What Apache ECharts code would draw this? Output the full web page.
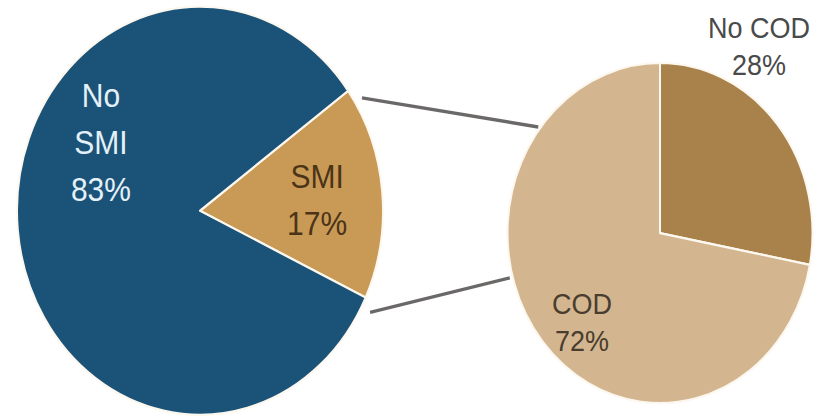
<!DOCTYPE html>
<html>
<head>
<meta charset="utf-8">
<script src="https://cdn.jsdelivr.net/npm/echarts@6/dist/echarts.min.js"></script>
<style>
  html, body { margin: 0; padding: 0; background: #ffffff; overflow: hidden; width: 821px; height: 420px; }
  #wrap { width: 821px; height: 420px; overflow: hidden; position: relative; }
  /* the whole drawing is stretched vertically, as in the printed figure */
  #chart { position: absolute; left: 0; top: 0; width: 821px; height: 377px; transform: scaleY(1.115); transform-origin: 0 0; }
</style>
</head>
<body>
<div id="wrap"><div id="chart"></div></div>
<script>
// Share of participants with / without SMI, and the COD split within SMI
const mainNames = ['SMI', 'No SMI'];
const mainValues = [17, 83];
const subNames = ['No COD', 'COD'];
const subValues = [28, 72];

// layout (unstretched pixels)
const mainCenter = [200, 189];
const mainRadius = 183;
const mainStart = 36;
const subCenter = [660, 209];
const subRadius = 152.5;
const subStart = 90;

const mainColors = ['#c99a56', '#1b5378'];
const subColors = ['#a9824b', '#d3b690'];
const mainLabelColors = ['#4b3418', '#e4f1f9'];
const subLabelColors = ['#4a4a4a', '#4a3d2e'];
const mainLabelOffsets = [[23, -1], [-5, -70]];
const subLabelOffsets = [[38, -117], [-17, 29]];

const chart = echarts.init(document.getElementById('chart'), null, { renderer: 'svg' });

function pieData(names, values, colors, labelColors, offsets, font, lh) {
  return names.map((n, i) => ({
    name: n,
    value: values[i],
    itemStyle: { color: colors[i] },
    label: {
      color: labelColors[i],
      offset: offsets[i],
      fontSize: font,
      lineHeight: lh
    }
  }));
}

// connector lines: from the SMI wedge of the main pie to the secondary pie
function pt(c, r, deg) {
  const a = deg * Math.PI / 180;
  return [c[0] + r * Math.cos(a), c[1] - r * Math.sin(a)];
}
const smiSweep = mainValues[0] / mainValues.reduce((a, b) => a + b, 0) * 360;
const topFrom = pt(mainCenter, mainRadius + 8, mainStart - 4);
const botFrom = pt(mainCenter, mainRadius + 10, mainStart - smiSweep - 3);
const topTo = pt(subCenter, subRadius + 2, 142);
const botTo = pt(subCenter, subRadius + 3, 195);

const lineStyle = { stroke: '#6b6868', lineWidth: 3 };

chart.setOption({
  backgroundColor: '#ffffff',
  animation: false,
  graphic: [
    { type: 'line', shape: { x1: topFrom[0], y1: topFrom[1], x2: topTo[0], y2: topTo[1] }, style: lineStyle, z: 1 },
    { type: 'line', shape: { x1: botFrom[0], y1: botFrom[1], x2: botTo[0], y2: botTo[1] }, style: lineStyle, z: 1 }
  ],
  series: [
    {
      type: 'pie',
      center: mainCenter,
      radius: mainRadius,
      startAngle: mainStart,
      clockwise: true,
      silent: true,
      itemStyle: { borderColor: '#fdf8ef', borderWidth: 2 },
      label: {
        show: true,
        position: 'inside',
        formatter: p => p.name.replace(' ', '\n') + '\n' + p.value + '%',
        fontFamily: 'Liberation Sans, Arial, sans-serif',
        textBorderWidth: 0,
        textShadowBlur: 0
      },
      labelLine: { show: false },
      data: pieData(mainNames, mainValues, mainColors, mainLabelColors, mainLabelOffsets, 30, 42)
    },
    {
      type: 'pie',
      center: subCenter,
      radius: subRadius,
      startAngle: subStart,
      clockwise: true,
      silent: true,
      itemStyle: { borderColor: '#fdf8ef', borderWidth: 2 },
      label: {
        show: true,
        position: 'inside',
        formatter: p => p.name + '\n' + p.value + '%',
        fontFamily: 'Liberation Sans, Arial, sans-serif',
        textBorderWidth: 0,
        textShadowBlur: 0
      },
      labelLine: { show: false },
      data: pieData(subNames, subValues, subColors, subLabelColors, subLabelOffsets, 27, 33)
    }
  ]
});
</script>
</body>
</html>
